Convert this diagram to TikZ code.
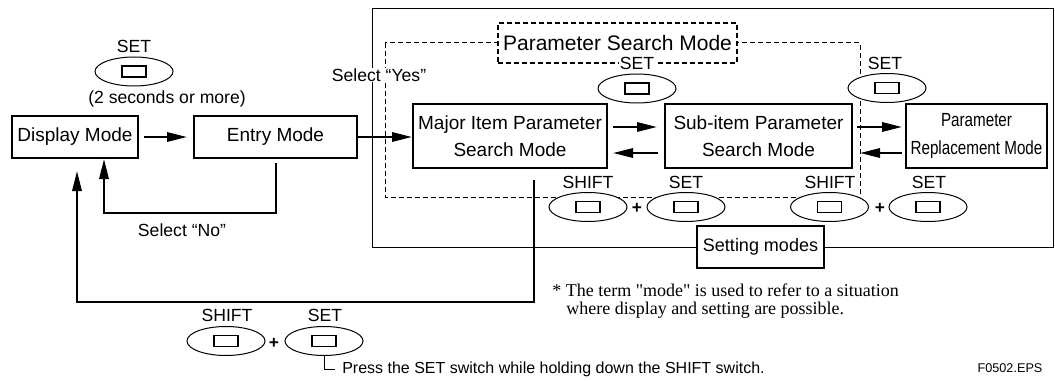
\documentclass[tikz,border=0pt]{standalone}
\usepackage{graphicx}
\usepackage{fontspec}
\setmainfont{Liberation Sans}
\newfontfamily\seriffont[Ligatures=TeXOff]{Liberation Serif}
\usetikzlibrary{arrows.meta,shapes.geometric}
\begin{document}
\begin{tikzpicture}[x=0.75pt,y=-0.75pt,
 box/.style={draw,line width=1.5pt,fill=white,inner sep=0pt,align=center,font=\fontsize{14.25}{20.25}\selectfont},
 lbl/.style={inner sep=0.6pt,font=\fontsize{13.2}{15}\selectfont},
 wlbl/.style={lbl,fill=white},
 keycap/.style={draw,line width=0.75pt,fill=white,ellipse,minimum width=58.5pt,minimum height=21.75pt,inner sep=0pt,
   path picture={\draw[line width=1.1pt] ([xshift=-9pt,yshift=-4.125pt]path picture bounding box.center) rectangle ++(18pt,8.25pt);}},
 conn/.style={line width=1.5pt},
 arr/.style={conn,-{Triangle[length=15pt,width=7pt]}},
 dsh/.style={line width=0.75pt,dash pattern=on 3.5pt off 2.5pt},
 plus/.style={inner sep=0pt,font=\fontsize{13}{13}\selectfont\bfseries}
]
\useasboundingbox (0,0) rectangle (1055,381);

% setting-modes frame and parameter-search region
\draw[line width=0.75pt] (372,9) rectangle (1053,247);
\draw[dsh] (385,43) rectangle (860,197);

% mode boxes
\node[box,minimum width=94.5pt,minimum height=31.5pt] (display) at (75,137) {Display Mode};
\node[box,minimum width=122.25pt,minimum height=31.5pt] (entry) at (275.5,137) {Entry Mode};
\node[box,minimum width=145.5pt,minimum height=48pt] (major) at (510,136) {Major Item Parameter\\Search Mode};
\node[box,minimum width=140.25pt,minimum height=48pt] (sub) at (758.5,136) {Sub-item Parameter\\Search Mode};
\node[box,minimum width=105.75pt,minimum height=48pt,font=\fontsize{14.25}{21}\selectfont] (repl) at (976.5,136) {\scalebox{0.8}[1]{Parameter}\\\scalebox{0.8}[1]{Replacement Mode}};
\node[box,dsh,line width=1.1pt,minimum width=179.25pt,minimum height=30pt,font=\fontsize{15.75}{18}\selectfont] (psm) at (617.5,43) {Parameter Search Mode};
\node[box,line width=1.1pt,minimum width=95.25pt,minimum height=31.5pt,font=\fontsize{13.5}{15}\selectfont] (setting) at (760.5,247) {Setting modes};

% arrows between modes
\draw[arr,shorten <=3.75pt,shorten >=4.5pt] (display.east) -- (entry.west);
\draw[arr] (entry.east) -- (entry.east -| major.west);
\draw[arr,shorten <=3.75pt,shorten >=5.25pt] ([yshift=6.75pt]major.east) -- ([yshift=6.75pt]sub.west);
\draw[arr,shorten <=4.5pt,shorten >=3.75pt] ([yshift=-12.75pt]sub.west) -- ([yshift=-12.75pt]major.east);
\draw[arr,shorten <=3pt,shorten >=2.25pt] ([yshift=6.75pt]sub.east) -- ([yshift=6.75pt]repl.west);
\draw[arr,shorten <=2.25pt,shorten >=5.25pt] ([yshift=-12.75pt]repl.west) -- ([yshift=-12.75pt]sub.east);

% return paths
\coordinate (noL) at (104,213);
\draw[arr] ([yshift=-3pt]entry.south) -- (entry.south |- noL) -- (noL) -- (display.south -| noL);
\coordinate (mt) at (534,180);
\coordinate (bl) at (77,302);
\draw[arr] (mt) -- (mt |- bl) -- (bl) -- ([yshift=-9pt]display.south -| bl);

% labels on paths
\node[wlbl] (yes) at (379,75) {Select “Yes”};
\node[lbl] (no) at (182,230) {Select “No”};

% keys: top left
\node[lbl] (k1l) at (134,46) {SET};
\node[keycap] (k1) at (134,71.5) {};
\node[lbl] (k1n) at (167,99) {(2 seconds or more)};
% keys: top middle and right
\node[wlbl] (k2l) at (637,63) {SET};
\node[keycap] (k2) at (637,88.5) {};
\node[lbl] (k3l) at (885,63) {SET};
\node[keycap] (k3) at (887,88) {};
% keys: lower middle pair
\node[lbl] (k4l) at (588,182) {SHIFT};
\node[keycap] (k4) at (588,207) {};
\node[plus] (p1) at (637,208) {+};
\node[lbl] (k5l) at (686,182) {SET};
\node[keycap] (k5) at (686,207) {};
% keys: lower right pair
\node[lbl] (k6l) at (830,182) {SHIFT};
\node[keycap] (k6) at (829.5,207) {};
\node[plus] (p2) at (880,208) {+};
\node[lbl] (k7l) at (929,182) {SET};
\node[keycap] (k7) at (928,207) {};
% keys: bottom pair
\node[lbl] (kal) at (227,315) {SHIFT};
\node[keycap] (ka) at (226,341) {};
\node[plus] (p3) at (274,343) {+};
\node[lbl] (kbl) at (325,315) {SET};
\node[keycap] (kb) at (324,341) {};

% explanation under the bottom pair
\node[anchor=west,inner sep=0pt,font=\fontsize{12}{14}\selectfont] (press) at (342,369) {Press the SET switch while holding down the SHIFT switch.};
\draw[line width=0.75pt] (kb.south) -- (kb.south |- press.west) -- ([xshift=-5pt]press.west);

% footnote
\node[anchor=west,inner sep=0pt,font=\seriffont\fontsize{13.5}{15}\selectfont] (fn1) at (552,290) {* The term "mode" is used to refer to a situation};
\node[anchor=west,inner sep=0pt,font=\seriffont\fontsize{13.5}{15}\selectfont] (fn2) at (566,310) {where display and setting are possible.};

\node[inner sep=0pt,font=\fontsize{9.5}{11}\selectfont] (fig) at (1010,368) {F0502.EPS};
\end{tikzpicture}
\end{document}
